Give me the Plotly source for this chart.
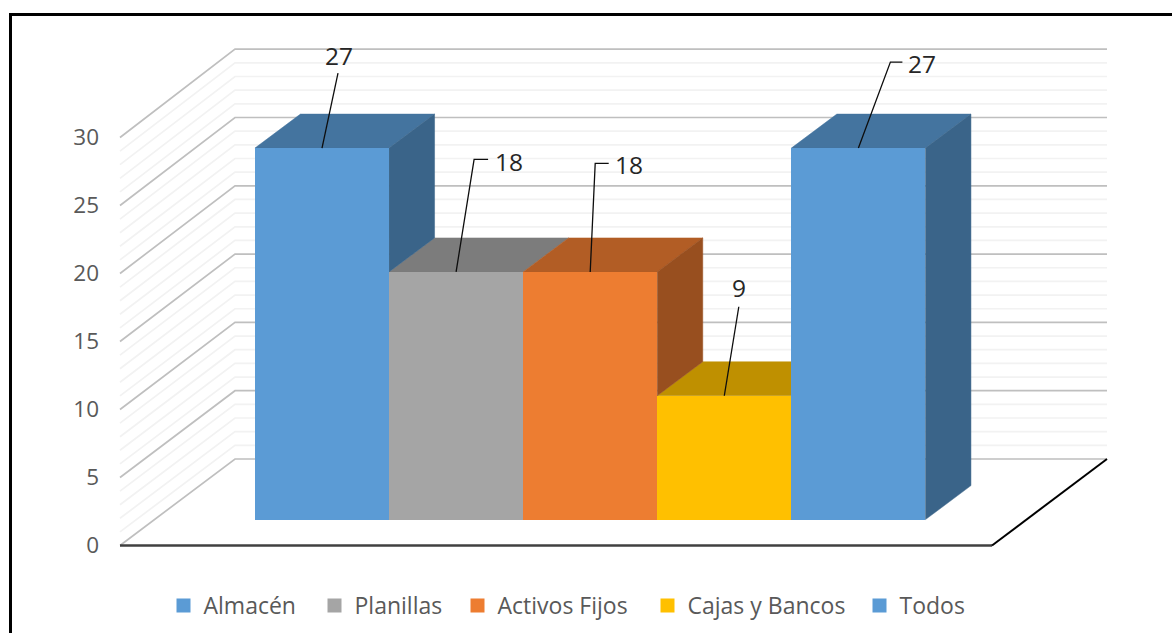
import plotly.graph_objects as go

# ---- data ----
CATEGORIES = ["Almacén", "Planillas", "Activos Fijos", "Cajas y Bancos", "Todos"]
VALUES = [27, 18, 18, 9, 27]
Y_TICKS = [0, 5, 10, 15, 20, 25, 30]
GRID_VALUES = list(range(0, 31))

# ---- styles ----
FRONT = ["#5B9BD5", "#A5A5A5", "#ED7D31", "#FFC000", "#5B9BD5"]
TOP = ["#44749F", "#7C7C7C", "#B25D25", "#BF9000", "#44749F"]
SIDE = ["#3A6489", "#6E6E6E", "#984F1F", "#A67C00", "#3A6489"]
FONT = "Open Sans, Noto Sans, sans-serif"

# ---- page geometry (pixels) ----
W, H = 1172, 633
ML, MR, MT, MB = 115, 55, 40, 78
PW, PH = W - ML - MR, H - MT - MB
BAR_PX, X0_PX = 134.1, 322.0     # bar width, centre of first bar
UNIT_PX, Y0_PX = 13.6, 545.5     # px per value unit on front edge, y of zero


def X(px):
    return (px - X0_PX) / BAR_PX


def Y(py):
    return (Y0_PX - py) / UNIT_PX


def PX(px):
    return (px - ML) / PW


def PY(py):
    return (H - MB - py) / PH


x_range = [X(ML), X(W - MR)]
y_range = [Y(H - MB), Y(MT)]

# 3-D projection parameters, in axis units
BAR_SCALE = 13.76 / UNIT_PX
WALL_SCALE = 13.66 / UNIT_PX
BAR_BASE = (Y0_PX - 519.6) / UNIT_PX
BAR_DX, BAR_DY = 45.5 / BAR_PX, 34 / UNIT_PX
WALL_DX, WALL_DY = 115 / BAR_PX, 86.5 / UNIT_PX
FLOOR_L, FLOOR_R = X(120), X(992)

fig = go.Figure()


def line(xs, ys, color, width, axes=("x", "y")):
    fig.add_trace(go.Scatter(x=xs, y=ys, mode="lines", xaxis=axes[0], yaxis=axes[1],
                             line=dict(color=color, width=width, simplify=False),
                             showlegend=False, hoverinfo="skip"))


def poly(xs, ys, color):
    fig.add_trace(go.Scatter(x=xs + xs[:1], y=ys + ys[:1], mode="lines", fill="toself",
                             fillcolor=color, line=dict(color=color, width=0.5),
                             showlegend=False, hoverinfo="skip"))


# walls: minor gridlines first, major ones on top
for major in (False, True):
    for v in GRID_VALUES:
        if (v % 5 == 0) != major:
            continue
        back_y = WALL_DY + v * WALL_SCALE
        front_y = v
        line([FLOOR_L, FLOOR_L + WALL_DX, FLOOR_R + WALL_DX],
             [front_y, back_y, back_y],
             "#BFBFBF" if major else "#F2F2F2", 1.7)

# floor edges
line([FLOOR_L, FLOOR_R], [0, 0], "#404040", 2.4)
line([FLOOR_R, FLOOR_R + WALL_DX], [0, WALL_DY], "#000000", 2)

# top and side faces of the columns
for i, v in enumerate(VALUES):
    top = BAR_BASE + v * BAR_SCALE
    l, r = i - 0.5, i + 0.5
    poly([l, l + BAR_DX, r + BAR_DX, r], [top, top + BAR_DY, top + BAR_DY, top], TOP[i])
for i, v in enumerate(VALUES):
    next_v = VALUES[i + 1] if i + 1 < len(VALUES) else 0
    if next_v >= v:
        continue
    top = BAR_BASE + v * BAR_SCALE
    low = BAR_BASE + next_v * BAR_SCALE
    r = i + 0.5
    poly([r, r + BAR_DX, r + BAR_DX, r], [top, top + BAR_DY, low + BAR_DY, low], SIDE[i])

# front faces: real bars on an overlaid subplot, one legend per entry
STROKE = 2
for i, (c, v) in enumerate(zip(CATEGORIES, VALUES)):
    fig.add_trace(go.Bar(
        x=[i], y=[v * BAR_SCALE - STROKE / UNIT_PX], base=[BAR_BASE + STROKE / 2 / UNIT_PX],
        width=[1 - STROKE / BAR_PX], name=c, xaxis="x2", yaxis="y2",
        marker=dict(color=FRONT[i], line=dict(color=FRONT[i], width=STROKE)),
        legend="legend" if i == 0 else f"legend{i + 1}", hoverinfo="skip"))

# data-label leaders (offsets in px from the bar's top centre) and label offsets
LEADERS = [
    [(0, 0), (16, -75)],
    [(0, 0), (18, -112.5), (32, -112.5)],
    [(0, 0), (5, -108.5), (18.5, -108.5)],
    [(0, 0), (14.5, -89)],
    [(0, 0), (32, -86), (44, -86)],
]
LABEL_OFFSETS = [(16.5, -93), (52.5, -110), (39, -107), (14.5, -108), (63.5, -85)]

annotations = []
for i, v in enumerate(VALUES):
    top = BAR_BASE + v * BAR_SCALE
    line([i + p[0] / BAR_PX for p in LEADERS[i]],
         [top - p[1] / UNIT_PX for p in LEADERS[i]], "#0D0D0D", 1.3, ("x2", "y2"))
    annotations.append(dict(
        x=i + LABEL_OFFSETS[i][0] / BAR_PX, y=top - LABEL_OFFSETS[i][1] / UNIT_PX,
        xref="x2", yref="y2", text=str(v), showarrow=False, xanchor="center", yanchor="middle",
        font=dict(family=FONT, size=24.5, color="#262626")))

# frame: left and top edges only
frame = dict(type="path", xref="paper", yref="paper",
             path=f"M {PX(10.5)} {PY(H + 5)} L {PX(10.5)} {PY(14.5)} L {PX(W + 5)} {PY(14.5)}",
             line=dict(color="#000000", width=3))

legend_x = [163.5, 314.5, 457.5, 647.5, 859.5]
legends = {}
for i, lx in enumerate(legend_x):
    key = "legend" if i == 0 else f"legend{i + 1}"
    legends[key] = dict(x=PX(lx), y=PY(605.5), xanchor="left", yanchor="middle",
                        xref="paper", yref="paper", bgcolor="rgba(0,0,0,0)", borderwidth=0,
                        font=dict(family=FONT, size=23, color="#595959"),
                        itemclick=False, itemdoubleclick=False)

axis_off = dict(visible=False, fixedrange=True)
fig.update_layout(
    width=W, height=H, autosize=False,
    margin=dict(l=ML, r=MR, t=MT, b=MB, pad=0, autoexpand=False),
    paper_bgcolor="#FFFFFF", plot_bgcolor="rgba(0,0,0,0)",
    barmode="overlay", bargap=0, showlegend=True,
    xaxis=dict(range=x_range, **axis_off),
    yaxis=dict(range=y_range, tickmode="array", tickvals=Y_TICKS, ticks="", showgrid=False,
               zeroline=False, showline=False, ticklabelstandoff=15, fixedrange=True,
               tickfont=dict(family=FONT, size=22.5, color="#595959")),
    xaxis2=dict(range=x_range, overlaying="x", **axis_off),
    yaxis2=dict(range=y_range, overlaying="y", **axis_off),
    annotations=annotations, shapes=[frame],
    **legends,
)

fig.write_html("out.html", config=dict(displayModeBar=False, responsive=False),
               post_script="document.body.style.margin='0';document.documentElement.style.overflow='hidden';")
